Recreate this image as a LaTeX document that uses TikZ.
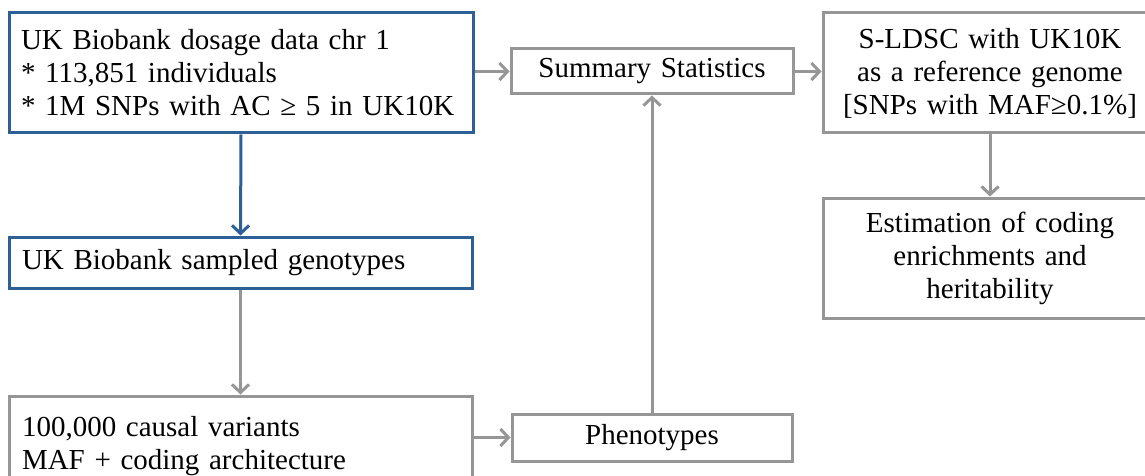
\documentclass[tikz,border=0pt]{standalone}
\usepackage{fontspec}
\setmainfont{Liberation Serif}
\usetikzlibrary{arrows.meta,calc}
\definecolor{boxblue}{RGB}{46,96,152}
\definecolor{boxgray}{RGB}{150,150,150}
\tikzset{
  base/.style={draw, line width=3pt, inner sep=0pt, font=\fontsize{29}{33}\selectfont},
  bluebox/.style={base, draw=boxblue},
  graybox/.style={base, draw=boxgray},
  conn/.style={line width=3pt, draw=boxgray, -{Straight Barb[length=8pt,width=17pt,line width=3pt]}},
  bconn/.style={conn, draw=boxblue},
}
\begin{document}
\begin{tikzpicture}[x=1pt,y=-1pt]
\useasboundingbox (0,0) rectangle (1145,476);
\fill[white] (0,0) rectangle (1145,476);
\node[bluebox, minimum width=464, minimum height=120, text width=440, align=left] (b1) at (241,73)
  {UK Biobank dosage data chr 1\\{}* 113,851 individuals\\{}* 1M SNPs with AC ≥ 5 in UK10K};
\node[bluebox, minimum width=463, minimum height=51, text width=437, align=left] (b2) at (240.5,262.5)
  {UK Biobank sampled genotypes};
\node[graybox, minimum width=463, minimum height=100, text width=437, align=left] (b3) at (240.5,446)
  {100,000 causal variants\\MAF + coding architecture};
\node[graybox, minimum width=282, minimum height=45, text width=260, align=center] (ss) at (652,71.5)
  {Summary Statistics};
\node[graybox, minimum width=280, minimum height=47, text width=260, align=center] (ph) at (652,437.5)
  {Phenotypes};
\node[graybox, minimum width=334, minimum height=120, text width=320, align=center] (ld) at (990,73)
  {S-LDSC with UK10K\\as a reference genome\\{}[SNPs with MAF≥0.1\%]};
\node[graybox, minimum width=334, minimum height=120, text width=320, align=center] (es) at (990,258)
  {Estimation of coding\\enrichments and\\heritability};
\draw[bconn] (b1.south) -- (b2.north);
\draw[conn] (b2.south) -- (b3.north);
\draw[conn] (b1.east |- ss.west) -- (ss.west);
\draw[conn] (ss.east) -- (ss.east -| ld.west);
\draw[conn] (ph.north) -- (ss.south);
\draw[conn] (b3.east |- ph.west) -- (ph.west);
\draw[conn] (ld.south) -- (es.north);
\end{tikzpicture}
\end{document}
